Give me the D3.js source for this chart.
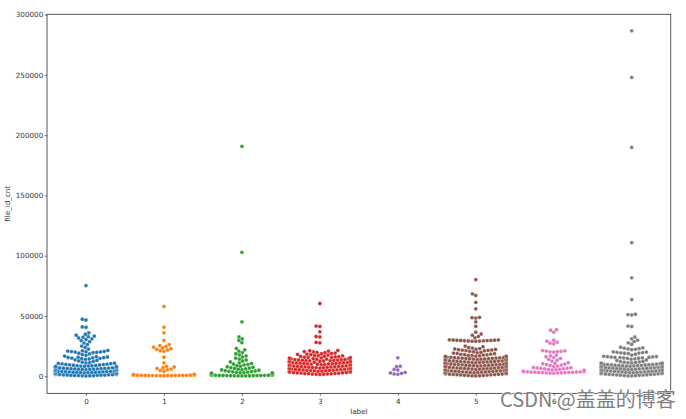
<!DOCTYPE html>
<html>
<head>
<meta charset="utf-8">
<script src="https://cdn.jsdelivr.net/npm/d3@7"></script>
<style>
body { margin: 0; background: #fff; }
svg { display: block; }
.axis text { font-family: "DejaVu Sans"; font-size: 7.2px; fill: #333; }
.axis line { stroke: #444; stroke-width: 0.8; }
</style>
</head>
<body>
<div class="swarm-plot"></div>
<script>
// categories, ticks, colours
const labels = [0, 1, 2, 3, 4, 5, 6, 7];
const yTicks = [0, 50000, 100000, 150000, 200000, 250000, 300000];
const colors = ["#1f77b4", "#ff7f0e", "#2ca02c", "#d62728", "#9467bd", "#8c564b", "#e377c2", "#7f7f7f"];

// file_id_cnt per label
const cnt0 = [150, 260, 330, 420, 510, 580, 660, 740, 820, 890, 970, 1050, 1120, 1200, 1290, 1350, 1440, 1510, 1600, 1680,
  1740, 1830, 1900, 1990, 2070, 2140, 2230, 2310, 2380, 2470, 2550, 2630, 2700, 2790, 2860, 2950, 3030, 3110, 3190, 3260,
  3350, 3430, 3500, 3590, 3670, 3760, 3840, 3920, 4000, 4090, 4170, 4250, 4340, 4420, 4510, 4590, 4680, 4770, 4850, 4940,
  5030, 5120, 5200, 5290, 5380, 5470, 5560, 5650, 5740, 5830, 5920, 6020, 6110, 6200, 6300, 6400, 6500, 6590, 6690, 6790,
  6900, 7000, 7100, 7210, 7320, 7420, 7530, 7650, 7760, 7880, 8000, 8120, 8250, 8380, 8510, 8650, 8790, 8940, 9090, 9250,
  9410, 9580, 9760, 9950, 10150, 10360, 10580, 10810, 11050, 11300, 11600,
  12200, 12700, 13100, 13600, 14000, 14300, 14600, 14800, 15000, 15200, 15400, 15500, 15700, 15900, 16200, 16700, 17300,
  17900, 18500, 19100, 19500, 19800, 20000, 20100, 20300, 20400, 20600, 20800, 21000, 21400,
  22500, 23800, 25000, 26200, 27500, 28600, 29500, 30400, 31000, 31700, 32300, 32800, 33300, 34000, 34800, 36000,
  40600, 40900, 46600, 47300, 75200];
const cnt1 = [350, 380, 420, 450, 480, 510, 540, 570, 600, 630, 660, 690, 720, 750, 780, 810, 840, 870, 900, 930, 960, 990,
  1020, 1050, 1080, 1110, 1140, 1170, 1200, 1230, 1260, 1290, 1320, 1350, 1380, 1400,
  4100, 4800, 5300, 5900, 6400, 7000, 7600, 8200, 11000, 15700, 20600, 21100, 21700, 22300, 22800, 23400, 24000, 24700,
  25400, 26200, 29600, 36000, 40600, 57800];
const cnt2 = [200, 240, 280, 320, 360, 400, 440, 480, 520, 560, 600, 640, 680, 720, 760, 800, 840, 880, 920, 960, 1000,
  1040, 1080, 1120, 1160, 1200, 1240, 1280,
  1600, 1800, 2000, 2200, 2400, 2550, 2700, 2850, 3000, 3200, 3400, 3600, 3800, 4000,
  4300, 4600, 4900, 5200, 5500, 5800, 6100, 6400, 6700, 7000, 7400,
  7800, 8300, 8800, 9300, 9700, 10100, 10600, 11100, 11800, 12600, 13400, 14200, 15000, 15900,
  16800, 17700, 18600, 19600, 20800, 21900, 23000, 27800, 29600, 31000, 32600, 45100, 102800, 190700];
const cnt3 = [1400, 1520, 1610, 1750, 1880, 1960, 2100, 2230, 2310, 2460, 2590, 2680, 2820, 2950, 3040, 3190, 3300, 3420,
  3560, 3650, 3790, 3910, 4030, 4180, 4260, 4400, 4530, 4620, 4770, 4890, 5000, 5140, 5230, 5380, 5500, 5610, 5760, 5850,
  5990, 6120, 6230, 6370, 6480, 6600, 6740, 6830, 6970, 7100, 7210, 7350, 7440, 7590, 7710, 7820, 7960, 8070, 8190, 8330,
  8420, 8570, 8690, 8800, 8940, 9030, 9180, 9300, 9410, 9550, 9660, 9780, 9920, 10010, 10160, 10280, 10390, 10530, 10640,
  10770, 10890, 11000, 11150, 11260, 11380, 11510, 11620, 11760, 11870, 12000, 12130, 12240, 12380, 12500, 12610, 12750,
  12860, 13000, 13120, 13250, 13370, 13500, 13640, 13760, 13900, 14030, 14170, 14300, 14440, 14580, 14720, 14870, 15010,
  15160, 15320, 15480, 15640, 15810, 15980, 16160, 16350, 16550, 16760, 17000,
  17250, 17500, 17800, 18050, 18300, 18600, 18900, 19200, 19500, 19800, 20100, 20400, 20800, 21100, 21300,
  27700, 28000, 32600, 32900, 36800, 41300, 41600, 60300];
const cnt4 = [1500, 1900, 2300, 2700, 3100, 5100, 5600, 7900, 8300, 15200];
const cnt5 = [200, 310, 420, 540, 650, 770, 880, 1000, 1110, 1230, 1340, 1460, 1570, 1690, 1800, 1920, 2030, 2150, 2260,
  2380, 2490, 2610, 2720, 2840, 2950, 3070, 3180, 3300, 3410, 3530, 3640, 3760, 3870, 3990, 4100, 4220, 4330, 4450, 4560,
  4680, 4790, 4910, 5020, 5140, 5250, 5370, 5480, 5600, 5710, 5830, 5940, 6060, 6170, 6290, 6400, 6520, 6630, 6750, 6860,
  6980, 7090, 7210, 7320, 7440, 7550, 7670, 7780, 7900, 8010, 8130, 8240, 8360, 8470, 8590, 8700, 8820, 8930, 9050, 9160,
  9280, 9390, 9510, 9620, 9740, 9850, 9970, 10080, 10200, 10310, 10430, 10540, 10660, 10770, 10890, 11000, 11120, 11230,
  11350, 11460, 11580, 11690, 11810, 11920, 12040, 12150, 12270, 12380, 12500, 12610, 12730, 12840, 12960, 13070, 13190,
  13300, 13420, 13530, 13650, 13760, 13880, 13990, 14110, 14220, 14340, 14450, 14570, 14680, 14800, 14910, 15030, 15140,
  15260, 15370, 15490, 15600, 15720, 15830, 15950, 16060, 16180, 16290, 16410, 16520,
  16700, 16900, 17100, 17300, 17500, 17700, 17900, 18100, 18300, 18600, 18900, 19200, 19500, 19800, 20200, 20600, 21000,
  21200, 21400, 21600, 21800, 22000, 22200, 22400, 22600, 22900, 23300, 23800, 24400, 25000,
  28900, 29000, 29100, 29200, 29300, 29400, 29500, 29600, 29700, 29800, 29900, 30000, 30100, 30200,
  31800, 33000, 34000, 35000, 36500, 41400, 45100, 48200, 48500, 48800, 55900, 61300, 67000, 68300, 80200];
const cnt6 = [2500, 2580, 2660, 2740, 2820, 2900, 2980, 3060, 3140, 3220, 3300, 3380, 3460, 3540, 3620, 3700, 3780, 3860,
  3940, 4020, 5000, 5200, 5400, 5600, 5800, 6000, 6200, 6400, 6600, 6800, 7000, 7200,
  8000, 8400, 8800, 9200, 9600, 10000, 10400, 10800, 11200, 12500, 13300, 14000, 14700, 15400, 16100, 16800, 17500,
  20000, 20200, 20400, 20600, 20800, 21000, 21200, 26800, 27400, 28200, 29000, 29800, 36500, 38200, 38500];
const cnt7 = [200, 320, 440, 560, 690, 810, 930, 1050, 1180, 1300, 1420, 1540, 1670, 1790, 1910, 2030, 2160, 2280, 2400,
  2520, 2650, 2770, 2890, 3010, 3140, 3260, 3380, 3500, 3630, 3750, 3870, 3990, 4120, 4240, 4360, 4480, 4610, 4730, 4850,
  4970, 5100, 5220, 5340, 5460, 5590, 5710, 5830, 5950, 6080, 6200, 6320, 6440, 6570, 6690, 6810, 6930, 7060, 7180, 7300,
  7420, 7550, 7670, 7790, 7910, 8040, 8160, 8280, 8400, 8530, 8650, 8770, 8890, 9020, 9140, 9260, 9380, 9510, 9630, 9750,
  9870, 10000, 10150, 10300, 10450, 10600, 10750, 10900, 11050, 11200, 11400, 11600, 11800, 12000, 12200,
  13000, 13500, 14000, 14400, 14800, 14950, 15100, 15250, 15400, 15550, 15700, 15850, 16000, 16150, 16300, 16450,
  17500, 18200, 18800, 19000, 19200, 19400, 19600, 19800, 20000, 20200, 22000, 22300, 22600, 22900, 23200, 23500, 24000,
  26500, 27700, 28800, 29900, 31000, 32500, 41200, 41600, 50800, 51100, 51400, 63600, 81600, 110800, 189800, 247900, 286600];
const series = [cnt0, cnt1, cnt2, cnt3, cnt4, cnt5, cnt6, cnt7];

const width = 686, height = 419;
const plot = {left: 47, right: 670.7, top: 14.3, bottom: 393.4};

const svg = d3.select(".swarm-plot")
    .append("svg")
    .attr("width", width)
    .attr("height", height);

// scales
const xScale = d3.scaleLinear()
    .domain([-0.5, 7.5])
    .range([plot.left, plot.right]);
const yScale = d3.scaleLinear()
    .domain([-14300, 300300])
    .range([plot.bottom, plot.top]);

// seaborn style beeswarm, in pixels
const dot = 3.6;
const half = 0.39 * (xScale(1) - xScale(0));

function beeswarm(vals, d) {
    const sorted = vals.slice().sort((a, b) => a - b);
    const placed = [];
    sorted.forEach(v => {
        const h = -yScale(v);
        const nb = [];
        for (let j = placed.length - 1; j >= 0; j--) {
            if (h - placed[j].h < d) nb.push(placed[j]);
            else break;
        }
        nb.reverse();
        const cand = [0];
        let leftFirst = true;
        nb.forEach(p => {
            const dy = h - p.h;
            const dx = Math.sqrt(Math.max(d * d - dy * dy, 0)) * 1.05;
            if (leftFirst) cand.push(p.x - dx, p.x + dx);
            else cand.push(p.x + dx, p.x - dx);
            leftFirst = !leftFirst;
        });
        const order = cand.map((c, i) => i)
            .sort((a, b) => (Math.abs(cand[a]) - Math.abs(cand[b])) || (a - b));
        let x = cand[order[order.length - 1]];
        for (const i of order) {
            const c = cand[i];
            if (nb.every(p => (p.x - c) ** 2 + (p.h - h) ** 2 >= d * d)) { x = c; break; }
        }
        placed.push({v: v, h: h, x: x});
    });
    placed.forEach(p => { p.x = Math.max(-half, Math.min(half, p.x)); });
    return placed;
}

// axes
const xAxis = d3.axisBottom(xScale)
    .tickValues(labels)
    .tickFormat(d3.format("d"))
    .tickSize(2.2)
    .tickPadding(3.2);
const yAxis = d3.axisLeft(yScale)
    .tickValues(yTicks)
    .tickFormat(d3.format("d"))
    .tickSize(2.2)
    .tickPadding(1.6);

svg.append("g")
    .attr("class", "axis x-axis")
    .attr("transform", `translate(0, ${plot.bottom})`)
    .call(xAxis)
    .call(g => g.select(".domain").remove());
svg.append("g")
    .attr("class", "axis y-axis")
    .attr("transform", `translate(${plot.left}, 0)`)
    .call(yAxis)
    .call(g => g.select(".domain").remove());

// points
series.forEach((vals, i) => {
    const pts = beeswarm(vals, dot);
    svg.append("g")
        .selectAll("circle")
        .data(pts)
        .enter()
        .append("circle")
        .attr("cx", d => xScale(labels[i]) + d.x)
        .attr("cy", d => yScale(d.v))
        .attr("r", 1.9)
        .attr("fill", colors[i])
        .attr("stroke", "#fff")
        .attr("stroke-opacity", 0.6)
        .attr("stroke-width", 0.35);
});

// frame
svg.append("rect")
    .attr("x", plot.left)
    .attr("y", plot.top)
    .attr("width", plot.right - plot.left)
    .attr("height", plot.bottom - plot.top)
    .attr("fill", "none")
    .attr("stroke", "#444")
    .attr("stroke-width", 0.9);

// axis titles
svg.append("text")
    .attr("x", (plot.left + plot.right) / 2)
    .attr("y", 413.5)
    .attr("text-anchor", "middle")
    .style("font-family", "DejaVu Sans")
    .style("font-size", "7.2px")
    .style("fill", "#333")
    .text("label");

svg.append("text")
    .attr("transform", `translate(10.3, ${(plot.top + plot.bottom) / 2}) rotate(-90)`)
    .attr("text-anchor", "middle")
    .style("font-family", "DejaVu Sans")
    .style("font-size", "7.2px")
    .style("fill", "#333")
    .text("file_id_cnt");

// watermark
svg.append("text")
    .attr("x", 500)
    .attr("y", 406.5)
    .style("font-family", "'Noto Sans CJK SC'")
    .style("font-size", "20px")
    .style("fill", "#7f7f7f")
    .style("stroke", "#fff")
    .style("stroke-width", 1.2)
    .style("paint-order", "stroke")
    .text("CSDN @盖盖的博客");
</script>
</body>
</html>
